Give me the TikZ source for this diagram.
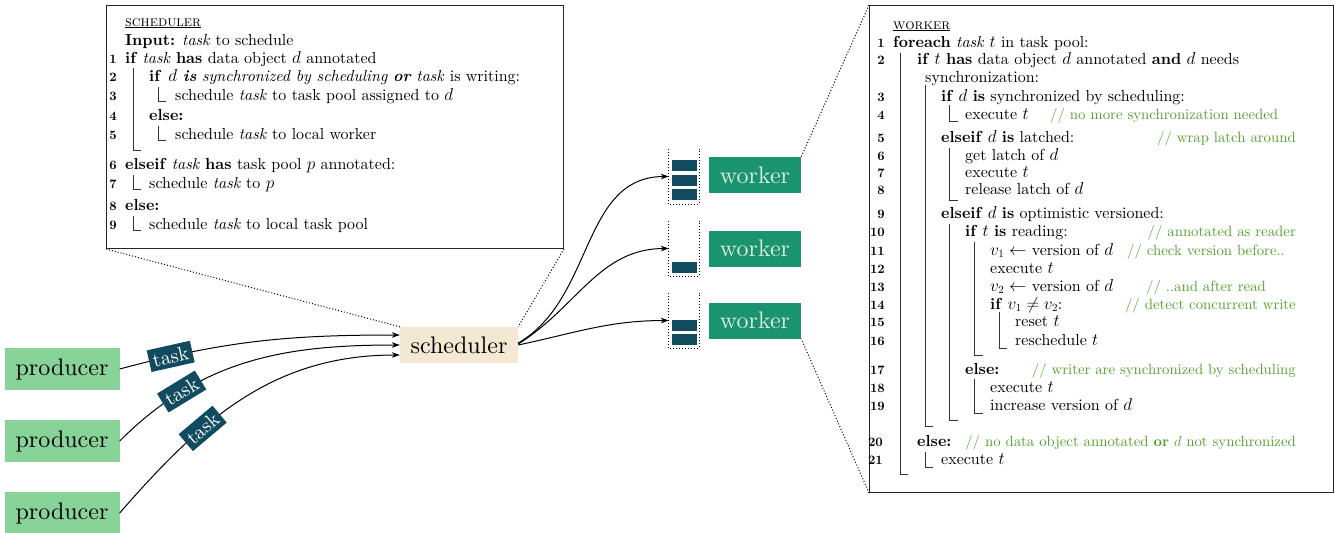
\documentclass[tikz,border=0pt]{standalone}
\usepackage{fontspec}
\setmainfont{lmroman10-regular}[
  Extension=.otf,
  BoldFont=lmroman10-bold,
  ItalicFont=lmroman10-italic,
  BoldItalicFont=lmroman10-bolditalic,
  SmallCapsFont=lmromancaps10-regular]
\usetikzlibrary{arrows.meta,calc}
\definecolor{prodgreen}{HTML}{88D498}
\definecolor{workgreen}{HTML}{1A936F}
\definecolor{schedtan}{HTML}{F3E9D2}
\definecolor{taskblue}{HTML}{114B5F}
\definecolor{worktext}{HTML}{DCEDDA}
\definecolor{cmtgreen}{RGB}{82,160,44}
\newcommand{\cmtslash}{//\ }
\newcommand{\algtitle}[1]{{\fontsize{14.8}{16}\selectfont\underline{\textsc{#1}}}}
\begin{document}
\begin{tikzpicture}[x=1pt,y=-1pt,
  bignode/.style={inner sep=0pt, font=\fontsize{24}{28}\selectfont},
  prodbox/.style={bignode, fill=prodgreen, minimum width=115pt, minimum height=42pt},
  schedbox/.style={bignode, fill=schedtan, minimum width=118pt, minimum height=36pt},
  workbox/.style={bignode, fill=workgreen, text=worktext, minimum width=92pt, minimum height=36pt},
  tasklabel/.style={fill=taskblue, text=white, inner sep=4pt, font=\fontsize{20}{22}\selectfont, sloped},
  queue/.style={inner sep=0pt, minimum width=30pt, minimum height=55pt},
  qitem/.style={fill=taskblue, inner sep=0pt, minimum width=25pt, minimum height=11pt},
  algbox/.style={draw=black!85, line width=1pt, inner sep=0pt, anchor=north west},
  code/.style={inner sep=0pt, anchor=base west, font=\fontsize{16}{18}\selectfont},
  lno/.style={inner sep=0pt, anchor=base east, font=\fontsize{12.8}{14}\selectfont\bfseries},
  cmt/.style={inner sep=0pt, anchor=base west, text=cmtgreen, font=\fontsize{14.8}{16}\selectfont},
  cmtr/.style={cmt, anchor=base east},
  blockbar/.style={draw=black!80, line width=0.8pt},
  flow/.style={draw=black, line width=1pt, -{Stealth[length=8pt,width=5.5pt]}},
  zoomline/.style={draw=black, line width=1pt, dash pattern=on 1pt off 2pt},
]
\useasboundingbox (0,0) rectangle (1334,533);

% ---------- producers and scheduler ----------
\node[prodbox] (p1) at (62,369) {producer};
\node[prodbox] (p2) at (62,441) {producer};
\node[prodbox] (p3) at (62,513) {producer};
\node[schedbox] (sched) at (459,345) {scheduler};

\draw[flow] (p1.east) to[out=15,in=180]
  node[tasklabel, pos=0.17] (t1) {task} ($(sched.west)+(0,-10)$);
\draw[flow] (p2.east) to[out=45,in=180]
  node[tasklabel, pos=0.25] (t2) {task} (sched.west);
\draw[flow] (p3.east) to[out=49,in=180]
  node[tasklabel, pos=0.34] (t3) {task} ($(sched.west)+(0,10)$);

% ---------- task pools and workers ----------
\node[queue] (q1) at (684,176.5) {};
\node[queue] (q2) at (684,248.5) {};
\node[queue] (q3) at (684,320.5) {};
\foreach \q in {q1,q2,q3}
  \draw[zoomline] (\q.north west) -- (\q.south west) -- (\q.south east) -- (\q.north east);
\node[qitem] (q1a) at (684.5,165.5) {};
\node[qitem] (q1b) at (684.5,180.5) {};
\node[qitem] (q1c) at (684.5,194.5) {};
\node[qitem] (q2a) at (684.5,267.5) {};
\node[qitem] (q3a) at (684.5,325.5) {};
\node[qitem] (q3b) at (684.5,339.5) {};

\node[workbox] (w1) at (755,175) {worker};
\node[workbox] (w2) at (755,248.5) {worker};
\node[workbox] (w3) at (755,320.5) {worker};

\draw[flow] ($(sched.east)+(0,-2)$) to[out=30,in=180] (q1.west);
\draw[flow] ($(sched.east)+(0,-1)$) to[out=32,in=180] (q2.west);
\draw[flow] (sched.east) to[out=12,in=180] (q3.west);

% ---------- scheduler algorithm ----------
\node[algbox, minimum width=457pt, minimum height=243pt] (salg) at (106,5) {};
\draw[zoomline] (salg.south west) -- (sched.north west);
\draw[zoomline] (salg.south east) -- (sched.north east);

\node[code] (s0) at (125,26) {\algtitle{scheduler}};
\node[code] (sin) at (125,45) {\textbf{Input:} \textit{task} to schedule};
\foreach \n/\y in {1/63,2/81,3/100,4/120,5/139,6/169,7/188,8/210,9/229}
  \node[lno] (sn\n) at (117,\y) {\n};
\node[code] (s1) at (125,63) {\textbf{if} \textit{task} \textbf{has} data object $d$ annotated};
\node[code] (s2) at (149,81) {\textbf{if}\hspace{7pt}\textit{$d$ \textbf{is} synchronized by scheduling \textbf{or} task} is writing:};
\node[code] (s3) at (175,100) {schedule \textit{task} to task pool assigned to $d$};
\node[code] (s4) at (149,120) {\textbf{else:}};
\node[code] (s5) at (175,139) {schedule \textit{task} to local worker};
\node[code] (s6) at (125,169) {\textbf{elseif} \textit{task} \textbf{has} task pool $p$ annotated:};
\node[code] (s7) at (149,188) {schedule \textit{task} to $p$};
\node[code] (s8) at (125,210) {\textbf{else:}};
\node[code] (s9) at (149,229) {schedule \textit{task} to local task pool};

\draw[blockbar] (133,68) -- (133,150) -- (141,150);
\draw[blockbar] (158,87) -- (158,101) -- (166,101);
\draw[blockbar] (158,126) -- (158,140) -- (166,140);
\draw[blockbar] (133,175) -- (133,189) -- (141,189);
\draw[blockbar] (133,216) -- (133,230) -- (141,230);

% ---------- worker algorithm ----------
\node[algbox, minimum width=464pt, minimum height=487pt] (walg) at (869,5) {};
\draw[zoomline] (walg.north west) -- (w1.north east);
\draw[zoomline] (walg.south west) -- (w3.south east);

\node[code] (w0) at (893,29) {\algtitle{worker}};
\foreach \n/\y in {1/47,2/64,3/101,4/119,5/142,6/160,7/177,8/194,9/218,10/236,
                   11/255,12/273,13/291,14/309,15/326,16/345,17/374,18/392,19/410}
  \node[lno] (wn\n) at (885,\y) {\n};
\node[lno] (wn20) at (883,446) {20};
\node[lno] (wn21) at (883,464) {21};

\node[code] (l1) at (893,47) {\textbf{foreach} \textit{task} $t$ in task pool:};
\node[code] (l2) at (917,64) {\textbf{if} $t$ \textbf{has} data object $d$ annotated \textbf{and} $d$ needs};
\node[code] (l2b) at (925,82) {synchronization:};
\node[code] (l3) at (941,101) {\textbf{if} $d$ \textbf{is} synchronized by scheduling:};
\node[code] (l4) at (965,119) {execute $t$};
\node[cmt] (c4) at (1050,119) {\cmtslash no more synchronization needed};
\node[code] (l5) at (941,142) {\textbf{elseif} $d$ \textbf{is} latched:};
\node[cmtr] (c5) at (1296,142) {\cmtslash wrap latch around};
\node[code] (l6) at (965,160) {get latch of $d$};
\node[code] (l7) at (965,177) {execute $t$};
\node[code] (l8) at (965,194) {release latch of $d$};
\node[code] (l9) at (941,218) {\textbf{elseif} $d$ \textbf{is} optimistic versioned:};
\node[code] (l10) at (965,236) {\textbf{if} $t$ \textbf{is} reading:};
\node[cmtr] (c10) at (1296,236) {\cmtslash annotated as reader};
\node[code] (l11) at (990,255) {$v_1 \leftarrow$ version of $d$};
\node[cmt] (c11) at (1127,255) {\cmtslash check version before..};
\node[code] (l12) at (990,273) {execute $t$};
\node[code] (l13) at (990,291) {$v_2 \leftarrow$ version of $d$};
\node[cmt] (c13) at (1146,291) {\cmtslash ..and after read};
\node[code] (l14) at (990,309) {\textbf{if} $v_1 \neq v_2$:};
\node[cmtr] (c14) at (1296,309) {\cmtslash detect concurrent write};
\node[code] (l15) at (1015,326) {reset $t$};
\node[code] (l16) at (1015,345) {reschedule $t$};
\node[code] (l17) at (965,374) {\textbf{else:}};
\node[cmtr] (c17) at (1296,374) {\cmtslash writer are synchronized by scheduling};
\node[code] (l18) at (990,392) {execute $t$};
\node[code] (l19) at (990,410) {increase version of $d$};
\node[code] (l20) at (917,446) {\textbf{else:}};
\node[cmtr] (c20) at (1296,446) {\cmtslash no data object annotated \textbf{or} $d$ not synchronized};
\node[code] (l21) at (941,464) {execute $t$};

\draw[blockbar] (900,53) -- (900,474) -- (908,474);
\draw[blockbar] (925,85) -- (925,426) -- (933,426);
\draw[blockbar] (949,105) -- (949,121) -- (958,121);
\draw[blockbar] (949,148) -- (949,200) -- (958,200);
\draw[blockbar] (949,224) -- (949,420) -- (958,420);
\draw[blockbar] (974,242) -- (974,355) -- (983,355);
\draw[blockbar] (999,312) -- (999,348) -- (1007,348);
\draw[blockbar] (974,379) -- (974,413) -- (983,413);
\draw[blockbar] (925,452) -- (925,467) -- (933,467);
\end{tikzpicture}
\end{document}
